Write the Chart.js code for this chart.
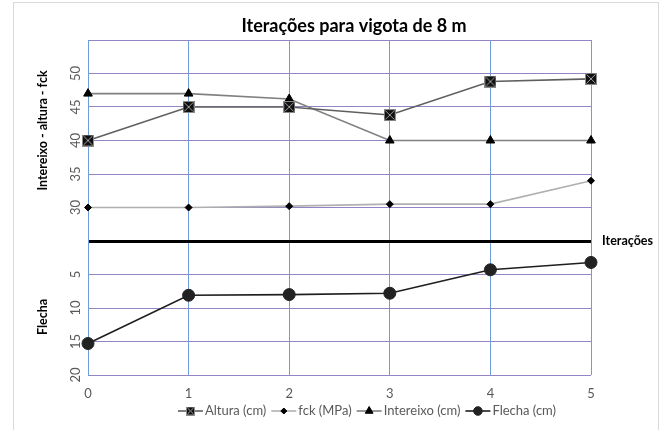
<!DOCTYPE html>
<html>
<head>
<meta charset="utf-8">
<script src="https://cdn.jsdelivr.net/npm/chart.js@4/dist/chart.umd.min.js"></script>
<style>
  html, body { margin: 0; padding: 0; background: #ffffff; }
  canvas { display: block; }
</style>
</head>
<body>
<canvas id="chart" width="662" height="430"></canvas>
<script>
// Iteration index and the values obtained at each iteration
const iteracoes = [0, 1, 2, 3, 4, 5];
const altura    = [40, 45, 45, 43.8, 48.8, 49.2];   // cm
const fck       = [30, 30, 30.2, 30.5, 30.5, 34];   // MPa
const intereixo = [47, 47, 46.2, 40, 40, 40];       // cm
const flecha    = [15.3, 8.1, 8.0, 7.8, 4.3, 3.2];  // cm

// Tick labels of the two stacked value ranges
const upperTicks  = [30, 35, 40, 45, 50];
const flechaTicks = [5, 10, 15, 20];

// The upper block spans 25..55, the deflection block hangs below 25 (0 at the break line)
const axisMin = 5, axisMax = 55, breakAt = 25;

const FONT = "Lato, 'Open Sans', sans-serif";
const GREY_TXT = '#595959';
const GRID_PURPLE = '#9484c4';
const GRID_BLUE = '#6d9edb';

function pts(values) {
  return iteracoes.map((x, i) => ({ x: x, y: values[i] }));
}

// Black square with a cross, used as the marker of the "Altura" series
function crossedBox(size) {
  const c = document.createElement('canvas');
  c.width = c.height = size;
  const g = c.getContext('2d');
  g.fillStyle = '#111111';
  g.fillRect(0, 0, size, size);
  g.strokeStyle = '#8a8a8a';
  g.lineWidth = 1;
  g.strokeRect(0.5, 0.5, size - 1, size - 1);
  g.beginPath();
  g.moveTo(1.5, 1.5); g.lineTo(size - 1.5, size - 1.5);
  g.moveTo(size - 1.5, 1.5); g.lineTo(1.5, size - 1.5);
  g.strokeStyle = '#a0a0a0';
  g.stroke();
  return c;
}
const boxBig = crossedBox(12);
const boxSmall = crossedBox(9);

const datasets = [
  {
    label: 'Altura (cm)', data: pts(altura), yAxisID: 'y',
    borderColor: '#5f5f5f', borderWidth: 1.6,
    pointStyle: boxBig, pointRadius: 6, pointBackgroundColor: '#111', pointBorderColor: '#111',
    legendStyle: boxSmall, legendRadius: 4.5
  },
  {
    label: 'fck (MPa)', data: pts(fck), yAxisID: 'y',
    borderColor: '#b0b0b0', borderWidth: 1.6,
    pointStyle: 'rectRot', pointRadius: 3.5, pointBackgroundColor: '#000', pointBorderColor: '#000',
    legendStyle: 'rectRot', legendRadius: 3
  },
  {
    label: 'Intereixo (cm)', data: pts(intereixo), yAxisID: 'y',
    borderColor: '#808080', borderWidth: 1.6,
    pointStyle: 'triangle', pointRadius: 5, pointBackgroundColor: '#000', pointBorderColor: '#000',
    legendStyle: 'triangle', legendRadius: 4.5
  },
  {
    label: 'Flecha (cm)', data: pts(flecha), yAxisID: 'yFlecha',
    borderColor: '#1e1e1e', borderWidth: 1.6,
    pointStyle: 'circle', pointRadius: 6, pointBackgroundColor: '#222', pointBorderColor: '#222',
    legendStyle: 'circle', legendRadius: 4.3
  }
];
datasets.forEach(d => { d.clip = false; d.tension = 0; d.fill = false; d.pointBorderWidth = 1; });

// Titles, axis captions, frame and legend drawn on the canvas
const decorations = {
  id: 'decorations',
  beforeDraw(chart) {
    const ctx = chart.ctx;
    ctx.save();
    ctx.strokeStyle = '#d9d9d9';
    ctx.lineWidth = 1;
    ctx.strokeRect(13.5, 2.5, 645, 440);
    ctx.restore();
  },
  afterDraw(chart) {
    const ctx = chart.ctx;
    const area = chart.chartArea;
    const yScale = chart.scales.y;
    ctx.save();
    ctx.fillStyle = '#000';
    ctx.textBaseline = 'middle';

    // chart title
    ctx.font = `bold 18px ${FONT}`;
    ctx.textAlign = 'center';
    ctx.fillText('Iterações para vigota de 8 m', 354, 26);

    // rotated axis captions
    ctx.font = `bold 12.5px ${FONT}`;
    const upperMid = (yScale.getPixelForValue(upperTicks[0] - 5) + yScale.getPixelForValue(axisMax)) / 2;
    const lowerMid = (yScale.getPixelForValue(breakAt) + yScale.getPixelForValue(axisMin)) / 2;
    [['Intereixo - altura - fck', upperMid - 10], ['Flecha', lowerMid + 9]].forEach(([t, y]) => {
      ctx.save();
      ctx.translate(43, y);
      ctx.rotate(-Math.PI / 2);
      ctx.fillText(t, 0, 0);
      ctx.restore();
    });

    // caption of the break line
    ctx.textAlign = 'left';
    ctx.fillText('Iterações', area.right + 11, yScale.getPixelForValue(breakAt));

    // legend: line segment with marker, then the series name
    ctx.font = `13px ${FONT}`;
    const seg = 25, gapAfterSeg = 2, gapAfterText = 5;
    const widths = chart.data.datasets.map(d => seg + gapAfterSeg + ctx.measureText(d.label).width);
    const total = widths.reduce((a, b) => a + b, 0) + gapAfterText * (widths.length - 1);
    let x = 367 - total / 2;
    const ly = 411;
    chart.data.datasets.forEach((d, i) => {
      ctx.strokeStyle = d.borderColor;
      ctx.lineWidth = 1.6;
      ctx.beginPath();
      ctx.moveTo(x, ly); ctx.lineTo(x + seg, ly);
      ctx.stroke();
      ctx.fillStyle = d.pointBackgroundColor;
      ctx.strokeStyle = d.pointBorderColor;
      ctx.lineWidth = 1;
      Chart.helpers.drawPoint(ctx, { pointStyle: d.legendStyle, radius: d.legendRadius, rotation: 0, borderWidth: 1 }, x + seg / 2, ly);
      ctx.fillStyle = GREY_TXT;
      ctx.textAlign = 'left';
      ctx.fillText(d.label, x + seg + gapAfterSeg, ly);
      x += widths[i] + gapAfterText;
    });
    ctx.restore();
  }
};

new Chart(document.getElementById('chart'), {
  type: 'line',
  data: { datasets: datasets },
  options: {
    responsive: false,
    animation: false,
    layout: { padding: { top: 40, right: 71, bottom: 25, left: 0 } },
    plugins: {
      legend: { display: false },
      title: { display: false },
      tooltip: { enabled: false }
    },
    scales: {
      x: {
        type: 'linear', min: iteracoes[0], max: iteracoes[iteracoes.length - 1],
        ticks: { stepSize: 1, color: GREY_TXT, font: { family: FONT, size: 13 }, padding: 11 },
        grid: { color: GRID_BLUE, lineWidth: 1, drawTicks: false },
        border: { display: false },
        afterFit(s) { s.height = 30; }
      },
      y: {
        type: 'linear', min: axisMin, max: axisMax,
        ticks: {
          stepSize: 5, color: GREY_TXT, font: { family: FONT, size: 13 },
          minRotation: 90, maxRotation: 90, crossAlign: 'center', padding: 5,
          callback(v) {
            if (upperTicks.includes(v)) return String(v);
            if (flechaTicks.includes(breakAt - v)) return String(breakAt - v);
            return '';
          }
        },
        grid: {
          drawTicks: false,
          color: c => c.tick && c.tick.value === breakAt ? '#000000' : GRID_PURPLE,
          lineWidth: c => c.tick && c.tick.value === breakAt ? 3 : 1
        },
        border: { display: true, color: GRID_BLUE, width: 1 },
        afterFit(s) { s.width = 88; }
      },
      yFlecha: {
        type: 'linear', display: false, reverse: true,
        min: breakAt - axisMax, max: breakAt - axisMin
      }
    }
  },
  plugins: [decorations]
});
</script>
</body>
</html>
